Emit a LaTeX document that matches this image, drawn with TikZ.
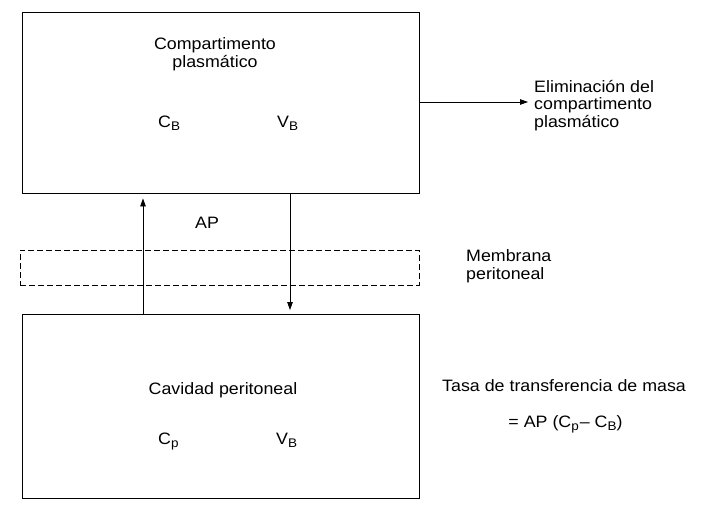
\documentclass[tikz,border=0pt]{standalone}
\usepackage{fontspec}
\setmainfont{Liberation Sans}[FakeStretch=1.08]
\usetikzlibrary{arrows.meta}
\newcommand\lowsub[1]{\raisebox{-3pt}{\fontsize{12.5}{12.5}\selectfont #1}}
\begin{document}
\begin{tikzpicture}[x=1pt,y=-1pt,
  box/.style={draw, line width=0.9pt, inner sep=0pt, minimum width=397pt},
  membox/.style={draw, line width=0.8pt, dash pattern=on 6pt off 3pt, inner sep=0pt, minimum width=399pt, minimum height=35pt},
  lbl/.style={inner sep=0pt, font=\fontsize{16.5}{17.3}\selectfont},
  arr/.style={-{Triangle[length=8pt,width=5.5pt]}, line width=0.8pt}]
\useasboundingbox (0,0) rectangle (722,514);
% boxes
\node[box, minimum height=181pt] (plasma) at (220.5,102.5) {};
\node[box, minimum height=184pt] (cav) at (220.5,406) {};
\node[membox] (memb) at (219.5,267.75) {};
% texts
\node[lbl, align=center, anchor=base] (tplasma) at (215,67) {Compartimento\\plasmático};
\node[lbl, anchor=base west] (cb) at (158,127) {C\lowsub{B}};
\node[lbl, anchor=base west] (vb1) at (277,127) {V\lowsub{B}};
\node[lbl, anchor=base west] (ap) at (195,228.5) {AP};
\node[lbl, align=left, anchor=base west] (telim) at (534,127) {Eliminación del\\compartimento\\plasmático};
\node[lbl, align=left, anchor=base west] (tmemb) at (466,279) {Membrana\\peritoneal};
\node[lbl, anchor=base] (tcav) at (223,394) {Cavidad peritoneal};
\node[lbl, anchor=base west] (cp) at (158,444) {C\lowsub{p}};
\node[lbl, anchor=base west] (vb2) at (276,444) {V\lowsub{B}};
\node[lbl, anchor=base west] (ttasa) at (442,391) {Tasa de transferencia de masa};
\node[lbl, anchor=base] (tform) at (565.5,427) {= AP (C\lowsub{p}\kern1pt– C\lowsub{B})};
% connectors
\coordinate (upx) at (143,0);
\coordinate (dnx) at (290,0);
\coordinate (elim) at (528,102);
\draw[arr] (cav.north -| upx) -- ([yshift=-5pt]plasma.south -| upx);
\draw[arr] (plasma.south -| dnx) -- ([yshift=3.5pt]cav.north -| dnx);
\draw[arr] (plasma.east |- elim) -- (elim);
\end{tikzpicture}
\end{document}
